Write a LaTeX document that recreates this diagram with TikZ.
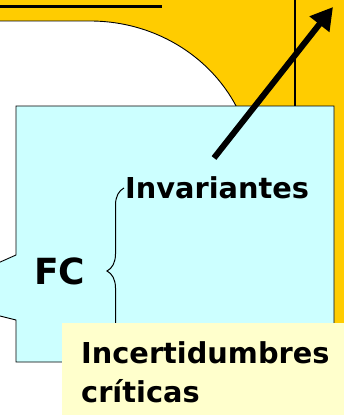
\documentclass[tikz,border=0pt]{standalone}
\usepackage{fontspec}
\setmainfont{DejaVu Sans}
\usetikzlibrary{arrows.meta,decorations.pathreplacing}

\definecolor{slideyellow}{HTML}{FFCC00}
\definecolor{boxcyan}{HTML}{CCFFFF}
\definecolor{noteyellow}{HTML}{FFFFCC}

\begin{document}
\begin{tikzpicture}[x=1pt, y=-1pt,
		lbl/.style={font=\bfseries\fontsize{28.8}{39}\selectfont, inner sep=0pt, anchor=base west, align=left}]
		\useasboundingbox (0, 0) rectangle (344, 415);
		\clip (0, 0) rectangle (344, 415);
		
		\fill[slideyellow] (0, 0) rectangle (344, 415);
		\draw[line width=3pt] (0, 6) -- (162, 6);
		
		\fill[white] (0, 21) -- (90, 21) arc[start angle=-90, end angle=0, x radius=163, y radius=153] -- (253, 415) -- (0, 415) -- cycle;
		\draw[line width=0.9pt] (0, 21) -- (90, 21) arc[start angle=-90, end angle=0, x radius=163, y radius=153];
		\draw[line width=2.5pt] (295, 0) -- (295, 106);
		
		\draw[fill=boxcyan, line width=0.9pt] (16, 106) -- (334, 106) -- (334, 362) -- (16, 362) -- (16, 320) -- (-20, 311) -- (-20, 271) -- (16, 255) -- cycle;
		
		\node[lbl] (inv) at (125, 198) {Invariantes};
		\node[lbl, font=\bfseries\fontsize{36}{40}\selectfont] (fc) at (34, 284) {FC};
		\draw[line width=1pt, decorate, decoration={brace, amplitude=17pt}] (124, 354) -- (124, 188);
		
		\coordinate (tail) at (214, 158);
		\coordinate (tip) at (333, 7);
		\draw[line width=6pt, -{Triangle[length=22pt, width=24pt]}] (tail) -- (tip);
		
		% last line sits on the base anchor
		\fill[noteyellow] (62, 323) rectangle (344, 415);
		\node[lbl] (inc) at (81, 402) {Incertidumbres\\críticas};
	\end{tikzpicture}
\end{document}
